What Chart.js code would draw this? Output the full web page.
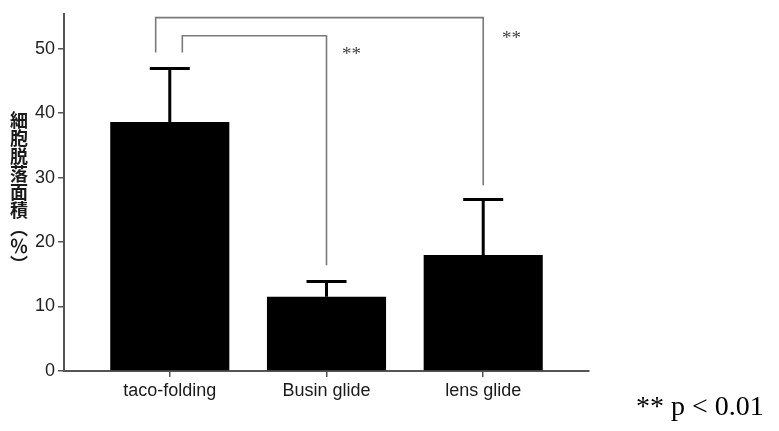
<!DOCTYPE html>
<html>
<head>
<meta charset="utf-8">
<script src="https://cdn.jsdelivr.net/npm/chart.js@4.4.1/dist/chart.umd.min.js"></script>
<style>
  html, body { margin: 0; padding: 0; background: #fff; }
  #wrap { position: relative; width: 779px; height: 431px; }
  #yTitle {
    position: absolute; left: 10px; top: 111px;
    writing-mode: vertical-rl; text-orientation: mixed;
    font-family: "Noto Sans CJK JP", sans-serif; font-weight: bold;
    font-size: 18px; line-height: 18px; color: #1a1a1a;
  }
  #note {
    position: absolute; left: 636px; top: 392px;
    font-family: "Liberation Serif", "Times New Roman", serif;
    font-size: 28px; line-height: 28px; color: #000; white-space: nowrap;
  }
</style>
</head>
<body>
<div id="wrap">
  <canvas id="chart" width="779" height="431"></canvas>
  <div id="yTitle">細胞脱落面積（％）</div>
  <div id="note">** p &lt; 0.01</div>
</div>
<script>
// data
const categories = ['taco-folding', 'Busin glide', 'lens glide'];
const meanValues = [38.6, 11.5, 18.0];
const sdValues = [8.3, 2.4, 8.6];
const yTicks = [0, 10, 20, 30, 40, 50];

// significance brackets (x in category units, y in %)
const bracketFromX = [-0.09, 0.08];
const bracketToX = [2, 1];
const bracketTopY = [54.8, 52.0];
const bracketLeftEndY = [49.4, 49.4];
const bracketRightEndY = [28.8, 16.4];
const bracketStars = ['**', '**'];
const starX = [2.18, 1.16];
const starY = [52.0, 49.4];

const errorBars = {
    id: 'errorBars',
    afterDatasetsDraw(chart) {
        const ctx = chart.ctx;
        const y = chart.scales.y;
        const meta = chart.getDatasetMeta(0);
        ctx.save();
        ctx.strokeStyle = '#000';
        ctx.lineWidth = 3;
        meta.data.forEach((bar, i) => {
            const top = y.getPixelForValue(meanValues[i] + sdValues[i]);
            ctx.beginPath();
            ctx.moveTo(bar.x, bar.y);
            ctx.lineTo(bar.x, top);
            ctx.moveTo(bar.x - 20, top);
            ctx.lineTo(bar.x + 20, top);
            ctx.stroke();
        });
        ctx.restore();
    }
};

const brackets = {
    id: 'brackets',
    afterDraw(chart) {
        const ctx = chart.ctx;
        const xs = chart.scales.x, ys = chart.scales.y;
        ctx.save();
        ctx.strokeStyle = '#7a7a7a';
        ctx.lineWidth = 1.6;
        bracketFromX.forEach((fx, i) => {
            const x1 = xs.getPixelForValue(fx);
            const x2 = xs.getPixelForValue(bracketToX[i]);
            const yt = ys.getPixelForValue(bracketTopY[i]);
            ctx.beginPath();
            ctx.moveTo(x1, ys.getPixelForValue(bracketLeftEndY[i]));
            ctx.lineTo(x1, yt);
            ctx.lineTo(x2, yt);
            ctx.lineTo(x2, ys.getPixelForValue(bracketRightEndY[i]));
            ctx.stroke();
        });
        ctx.fillStyle = '#444';
        ctx.font = '19px "Liberation Serif", serif';
        ctx.textAlign = 'center';
        ctx.textBaseline = 'middle';
        bracketStars.forEach((s, i) => {
            ctx.fillText(s, xs.getPixelForValue(starX[i]), ys.getPixelForValue(starY[i]) + 3);
        });
        ctx.restore();
    }
};

new Chart(document.getElementById('chart'), {
    type: 'bar',
    data: {
        datasets: [{
            data: categories.map((c, i) => ({ x: i, y: meanValues[i] })),
            backgroundColor: '#000',
            borderWidth: 0,
            categoryPercentage: 1,
            barPercentage: 0.76
        }]
    },
    options: {
        responsive: false,
        animation: false,
        layout: { padding: { left: 0, right: 190, top: 13, bottom: 0 } },
        plugins: { legend: { display: false }, tooltip: { enabled: false } },
        scales: {
            x: {
                type: 'linear',
                offset: false,
                min: -0.675,
                max: 2.675,
                afterBuildTicks: (axis) => { axis.ticks = categories.map((c, i) => ({ value: i })); },
                afterFit: (s) => { s.height = 60; },
                grid: { offset: false, drawOnChartArea: false, tickLength: 6, color: '#555', lineWidth: 1.5 },
                border: { display: true, color: '#555', width: 2 },
                ticks: {
                    autoSkip: false, maxRotation: 0, padding: 3, color: '#1a1a1a',
                    font: { family: '"Liberation Sans", Arial, sans-serif', size: 18 },
                    callback: (v) => categories[v]
                }
            },
            y: {
                min: 0,
                max: 55.4,
                afterBuildTicks: (axis) => { axis.ticks = yTicks.map(v => ({ value: v })); },
                afterFit: (s) => { s.width = 64; },
                grid: { drawOnChartArea: false, tickLength: 6, color: '#555', lineWidth: 1.5 },
                border: { display: true, color: '#555', width: 2 },
                ticks: {
                    padding: 3, color: '#222',
                    font: { family: '"Liberation Sans", Arial, sans-serif', size: 18 }
                }
            }
        }
    },
    plugins: [errorBars, brackets]
});
</script>
</body>
</html>
